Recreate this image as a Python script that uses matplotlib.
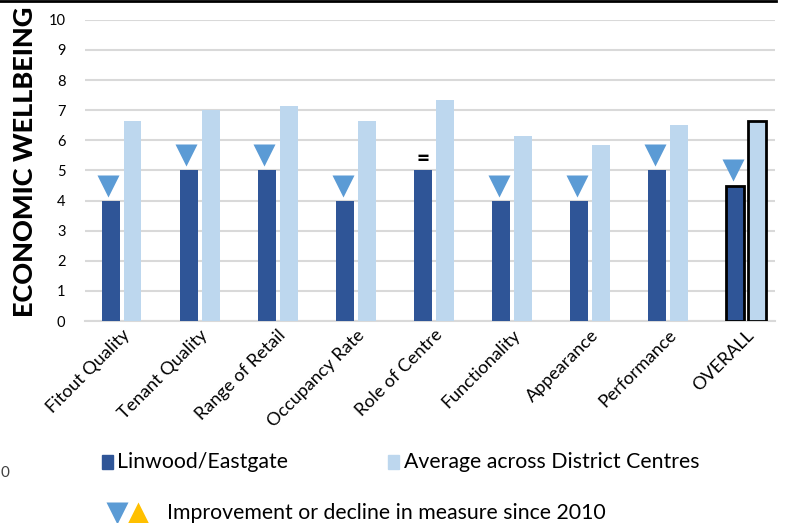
import numpy as np
import matplotlib
matplotlib.use('Agg')
from matplotlib import pyplot as plt
from matplotlib.lines import Line2D

plt.rcParams['font.family'] = ['Lato', 'DejaVu Sans']

categories = ['Fitout Quality', 'Tenant Quality', 'Range of Retail', 'Occupancy Rate',
              'Role of Centre', 'Functionality', 'Appearance', 'Performance', 'OVERALL']
linwood = [4, 5, 5, 4, 5, 4, 4, 5, 4.5]
average = [6.65, 7.0, 7.15, 6.65, 7.35, 6.15, 5.85, 6.5, 6.65]
# change since 2010: 'down' = triangle, 'same' = "="
change = ['down', 'down', 'down', 'down', 'same', 'down', 'down', 'down', 'down']

dark = '#2F5597'
light = '#BDD7EE'
tri = '#5B9BD5'
yellow = '#FFC000'

fig = plt.figure(figsize=(7.86, 5.23), dpi=100)
ax = fig.add_axes([0.108, 0.386, 0.878, 0.576])

x = np.arange(len(categories))
w = 0.23
off = 0.14
edge_d = ['none'] * (len(x) - 1) + ['black']
lw = [0] * (len(x) - 1) + [2]
ax.bar(x - off, linwood, w, color=dark, edgecolor=edge_d, linewidth=lw, zorder=3)
ax.bar(x + off, average, w, color=light, edgecolor=edge_d, linewidth=lw, zorder=3)

for i, c in enumerate(change):
    if c == 'down':
        ax.plot(x[i] - off - 0.03, linwood[i] + 0.5, marker='v', ms=16.5,
                color=tri, mec='none', zorder=4)
    else:
        ax.text(x[i] - off, linwood[i] + 0.35, '=', ha='center', va='center',
                fontsize=16, fontweight='black', zorder=4)

ax.set_ylim(0, 10)
ax.set_xlim(-0.47, 8.37)
ax.set_yticks(range(0, 11))
ax.yaxis.grid(True, color='#d9d9d9', linewidth=1.5, zorder=0)
ax.set_axisbelow(True)
for s in ['top', 'right', 'left']:
    ax.spines[s].set_visible(False)
ax.spines['bottom'].set_color('#d9d9d9')
ax.spines['bottom'].set_linewidth(1.5)
ax.tick_params(axis='both', length=0, labelsize=10.5, pad=14)
ax.set_xticks(x)
ax.set_xticklabels(categories, rotation=45, ha='right', rotation_mode='anchor',
                   fontsize=13)
ax.tick_params(axis='x', pad=4)

fig.text(0.032, 0.69, 'ECONOMIC WELLBEING', rotation=90, ha='center', va='center',
         fontsize=19.5, fontweight='black')

# legend
fig.patches.append(plt.Rectangle((102 / 786, 1 - 469 / 523), 11 / 786, 14 / 523,
                                 transform=fig.transFigure, color=dark, figure=fig))
fig.text(117 / 786, 1 - 462 / 523, 'Linwood/Eastgate', fontsize=15.3, va='center')
fig.patches.append(plt.Rectangle((388 / 786, 1 - 469 / 523), 11 / 786, 14 / 523,
                                 transform=fig.transFigure, color=light, figure=fig))
fig.text(404 / 786, 1 - 462 / 523, 'Average across District Centres', fontsize=15.3,
         va='center')

fig.add_artist(Line2D([117 / 786], [1 - 513 / 523], marker='v', ms=16, color=tri,
                      mec='none', transform=fig.transFigure))
fig.add_artist(Line2D([138 / 786], [1 - 513 / 523], marker='^', ms=16, color=yellow,
                      mec='none', transform=fig.transFigure))
fig.text(167 / 786, 1 - 513 / 523, 'Improvement or decline in measure since 2010',
         fontsize=15.3, va='center')

fig.text(0.001, 1 - 473 / 523, '0', fontsize=11, ha='left', va='center', color='#404040')

# top border line
fig.add_artist(Line2D([0, 776 / 786], [0.998, 0.998], color='black', linewidth=2,
                      transform=fig.transFigure))

fig.savefig('out.png', dpi=100)
